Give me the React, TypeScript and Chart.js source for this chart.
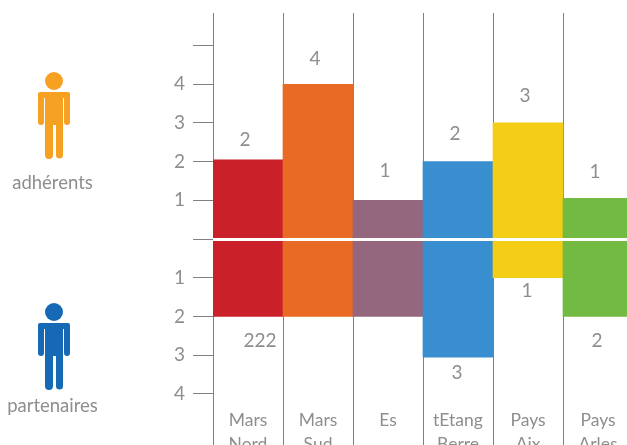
import React, { useEffect, useRef } from "react";
import { Chart, registerables } from "chart.js";

Chart.register(...registerables);

const categories = [["Mars", "Nord"], ["Mars", "Sud"], ["Es"], ["tEtang", "Berre"], ["Pays", "Aix"], ["Pays", "Arles"]];
const adherents = [2.05, 4, 1, 2, 3, 1.05];
const partenaires = [-2, -2, -2, -3.05, -1, -2];
const adherentLabels = ["2", "4", "1", "2", "3", "1"];
const partenaireLabels = ["222", "", "", "3", "1", "2"];
const barColors = ["#C9202A", "#E96A25", "#95677F", "#388ECF", "#F4CD17", "#73BA43"];

const GREY = "#808080";
const TEXT = "#8e8e8e";
const FONT = "Lato, 'Open Sans', sans-serif";

const upOffsets = [20, 25, 29, 28, 27, 27];
const upShift = [-3, -3, -3, -3, -3, -3];
const downOffsets = [24, 0, 0, 16, 13, 24];
const downShift = [12, 0, 0, -1, -1, -1];

const valueLabels = {
  id: "valueLabels",
  afterDatasetsDraw(chart: any) {
    const { ctx, scales } = chart;
    ctx.save();
    ctx.font = `400 19px ${FONT}`;
    ctx.fillStyle = TEXT;
    ctx.textAlign = "center";
    ctx.textBaseline = "middle";
    categories.forEach((_, i) => {
      const x = scales.x.getPixelForValue(i);
      ctx.fillText(adherentLabels[i], x + upShift[i], scales.y.getPixelForValue(adherents[i]) - upOffsets[i]);
      if (partenaireLabels[i]) {
        ctx.fillText(partenaireLabels[i], x + downShift[i], scales.y.getPixelForValue(partenaires[i]) + downOffsets[i]);
      }
    });
    ctx.restore();
  },
};

function Person({ color, dy }: { color: string; dy: number }) {
  return (
    <g fill={color} transform={`translate(0 ${dy})`}>
      <circle cx="54" cy="81" r="9" />
      <path d="M40 92H68a2 2 0 0 1 2 2V122a3 3 0 0 1-6 0V98H63V155a3.5 3.5 0 0 1-7 0V125H53V155a3.5 3.5 0 0 1-8 0V98H44V122a3 3 0 0 1-6 0V94a2 2 0 0 1 2-2Z" />
    </g>
  );
}

export default function App() {
  const ref = useRef<HTMLCanvasElement>(null);
  useEffect(() => {
    const chart = new Chart(ref.current!, {
      type: "bar",
      data: {
        labels: categories,
        datasets: [
          { label: "adhérents", data: adherents, backgroundColor: barColors, stack: "s" },
          { label: "partenaires", data: partenaires, backgroundColor: barColors, stack: "s" },
        ],
      },
      plugins: [valueLabels],
      options: {
        animation: false,
        responsive: false,
        maintainAspectRatio: false,
        layout: { autoPadding: false, padding: { top: 13, right: 7, left: 0, bottom: 0 } },
        plugins: { legend: { display: false }, tooltip: { enabled: false } },
        datasets: { bar: { barPercentage: 1, categoryPercentage: 1, borderWidth: 0 } },
        scales: {
          x: {
            stacked: true,
            afterFit(s: any) { s.height = 0; s.paddingLeft = 0; s.paddingRight = 0; },
            border: { display: false },
            grid: { color: GREY, lineWidth: 1, drawTicks: false, offset: true },
            ticks: {
              color: TEXT,
              mirror: true,
              padding: 13,
              maxRotation: 0,
              autoSkip: false,
              font: { family: FONT, size: 17.5, weight: "400", lineHeight: 1.37 },
            },
          },
          y: {
            stacked: true,
            min: -5.32,
            max: 5.84,
            afterFit(s: any) { s.width = 213; s.paddingTop = 0; s.paddingBottom = 0; },
            afterBuildTicks(s: any) { s.ticks = s.ticks.filter((t: any) => Number.isInteger(t.value)); },
            border: { display: false },
            grid: {
              z: 1,
              drawTicks: true,
              tickLength: 20,
              tickColor: GREY,
              tickWidth: (c: any) => (c.tick && c.tick.value === -5 ? 2 : 1),
              color: (c: any) => (c.tick && c.tick.value === 0 ? "#ffffff" : "rgba(0,0,0,0)"),
              lineWidth: (c: any) => (c.tick && c.tick.value === 0 ? 3 : 1),
            },
            ticks: {
              stepSize: 1,
              color: TEXT,
              padding: 8,
              font: { family: FONT, size: 19, weight: "400" },
              callback: (v: any) => (Math.abs(v) >= 1 && Math.abs(v) <= 4 ? String(Math.abs(v)) : ""),
            },
          },
        },
      } as any,
    });
    return () => chart.destroy();
  }, []);

  const textStyle: React.CSSProperties = {
    position: "absolute", left: 0, width: 105, textAlign: "center",
    font: `400 18.5px ${FONT}`, color: TEXT,
  };
  return (
    <div style={{ position: "absolute", left: 0, top: 0, width: 627, height: 445, overflow: "hidden", background: "#fff" }}>
      <canvas ref={ref} width={640} height={445} style={{ position: "absolute", left: 0, top: 0 }} />
      <svg width="110" height="445" style={{ position: "absolute", left: 0, top: 0 }}>
        <Person color="#F7A122" dy={0} />
        <Person color="#1569B5" dy={231} />
      </svg>
      <div style={{ ...textStyle, top: 171 }}>adhérents</div>
      <div style={{ ...textStyle, top: 394 }}>partenaires</div>
    </div>
  );
}
